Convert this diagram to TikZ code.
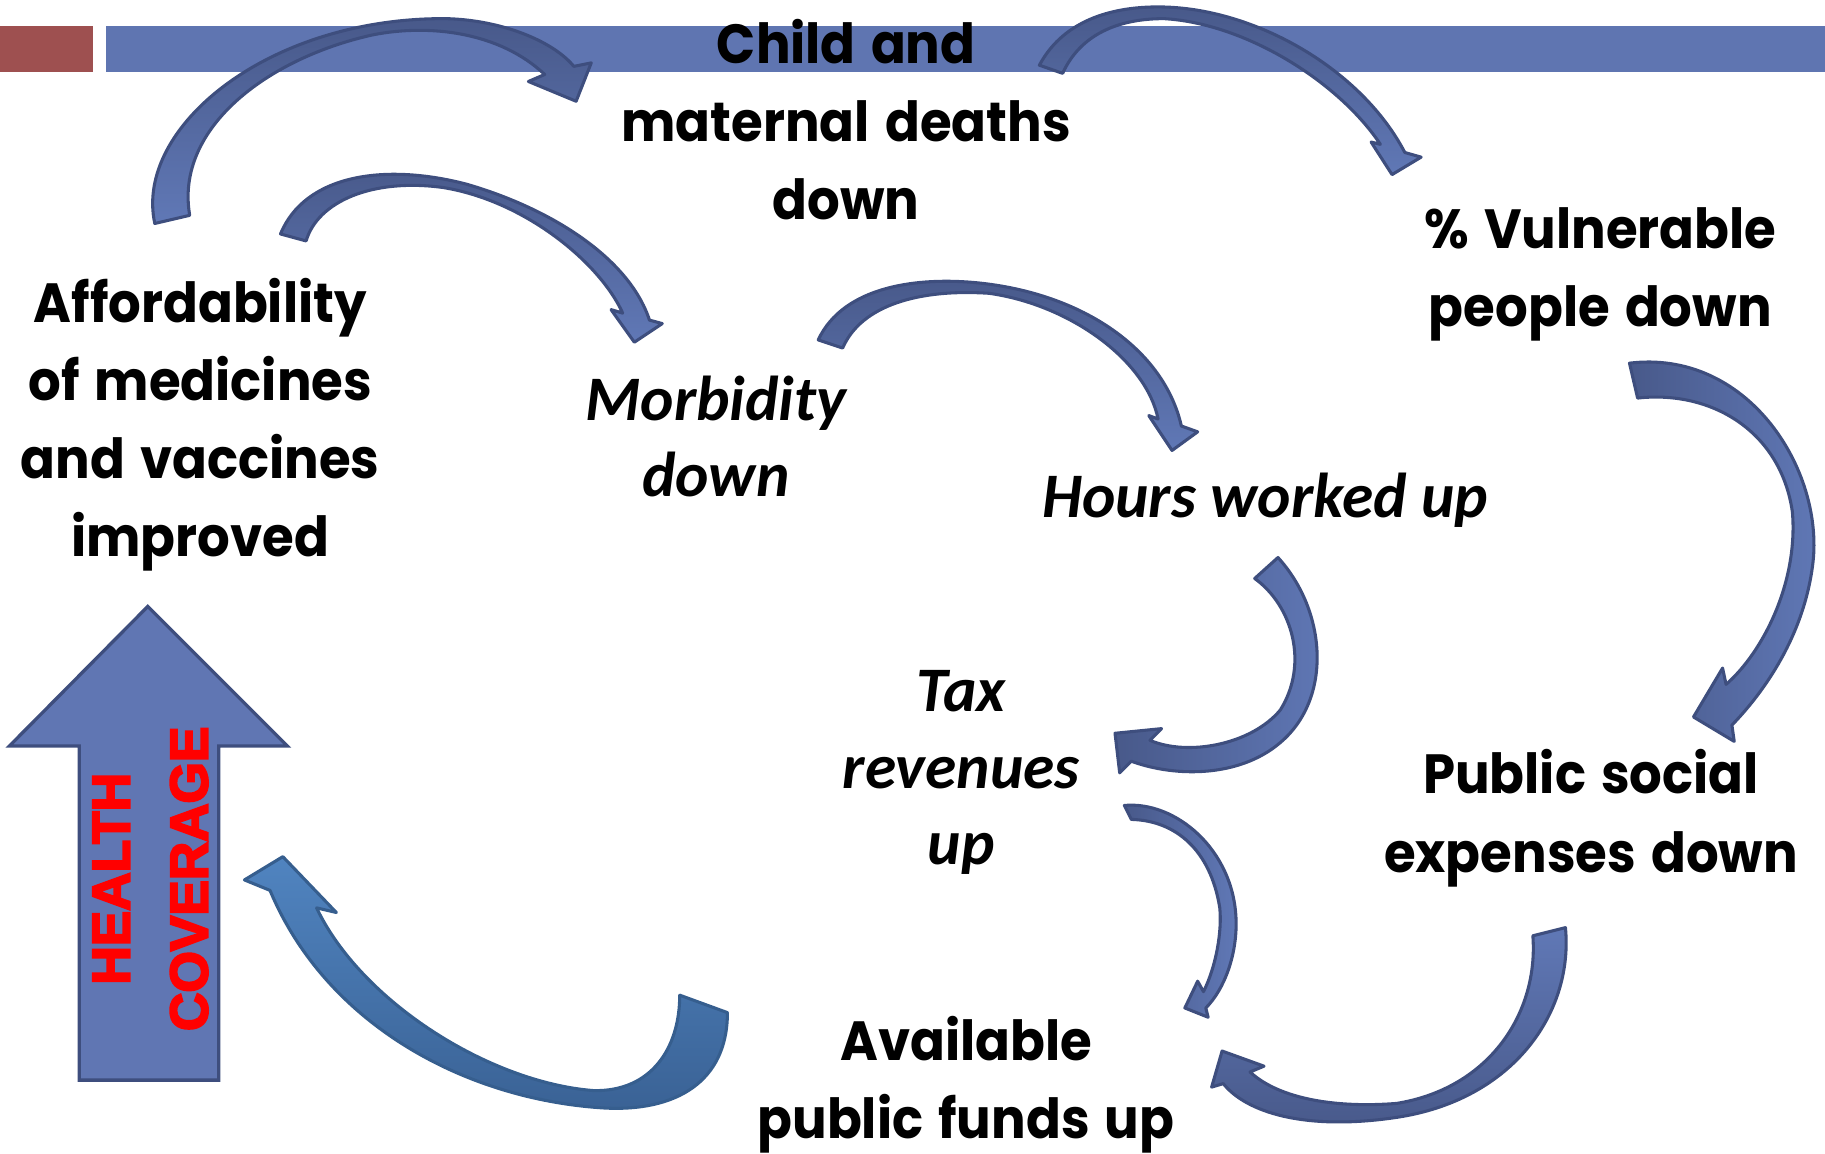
\documentclass[tikz,border=0pt]{standalone}
\usepackage{fontspec}
\newfontfamily\geo[FakeStretch=0.93,WordSpace=1.4]{Poppins}
\newfontfamily\carl{Carlito}
\newfontfamily\arl[FakeBold=4]{Liberation Sans}
\definecolor{barblue}{HTML}{5F75B1}
\definecolor{barred}{HTML}{9E5050}
\definecolor{hblue}{HTML}{6076B3}
\definecolor{adark}{HTML}{48598A}
\definecolor{alight}{HTML}{6078B6}
\definecolor{aline}{HTML}{3E4E7E}
\definecolor{sdark}{HTML}{3A6295}
\definecolor{slight}{HTML}{5084C0}
\definecolor{sline}{HTML}{365E8E}
\tikzset{
  curvarrow/.style={draw=aline, line width=0.75pt, line join=round, left color=adark, right color=alight, shading angle=#1},
  steelarrow/.style={draw=sline, line width=0.75pt, line join=round, left color=slight, right color=sdark, shading angle=#1},
  geotext/.style={font=\geo\bfseries\fontsize{13.5}{19.1}\selectfont, align=center, inner sep=0pt},
  ittext/.style={font=\carl\bfseries\itshape\fontsize{15.5}{18.7}\selectfont, align=center, inner sep=0pt},
  hctext/.style={font=\arl\bfseries\fontsize{13}{15}\selectfont, text=red, rotate=90, inner sep=0pt},
}
\begin{document}
\begin{tikzpicture}[x=0.1mm,y=-0.1mm]
\useasboundingbox (0,0) rectangle (1568,991);
% title bar
\fill[barred] (0,22) rectangle (80,62);
\fill[barblue] (91,22) rectangle (1568,62);

% health coverage arrow
\draw[fill=hblue, draw=aline, line width=0.8pt, line join=miter]
  (127,521) -- (247,641) -- (188,641) -- (188,928) -- (68,928) -- (68,641) -- (8,641) -- cycle;
\node[hctext] (health) at (95.5,755) {HEALTH};
\node[hctext] (coverage) at (162.5,755) {COVERAGE};

% A1: affordability -> child deaths
\path[curvarrow=0] (133,192) .. controls (115,110) and (230,15) .. (383,16)
  .. controls (430,17) and (475,35) .. (493,57)
  -- (508,54) -- (495,87) -- (454,70) -- (468,64)
  .. controls (430,28) and (370,20) .. (320,30)
  .. controls (230,50) and (150,110) .. (163,185) -- cycle;
% A2: affordability -> morbidity
\path[curvarrow=0] (241,201) .. controls (262,150) and (330,140) .. (400,158)
  .. controls (470,178) and (540,220) .. (558,275)
  -- (569,278) -- (545,294) -- (525,266) -- (535,269)
  .. controls (515,225) and (450,172) .. (380,161)
  .. controls (320,153) and (273,173) .. (263,207) -- cycle;
% A3: morbidity -> hours
\path[curvarrow=0] (703,292) .. controls (725,245) and (790,238) .. (840,243)
  .. controls (930,252) and (1000,300) .. (1015,366)
  -- (1029,371) -- (1007,387) -- (987,357) -- (995,360)
  .. controls (985,310) and (920,262) .. (850,252)
  .. controls (790,248) and (740,262) .. (724,299) -- cycle;
% A4: child deaths -> vulnerable
\path[curvarrow=0] (893,56) .. controls (915,15) and (960,5) .. (1000,6)
  .. controls (1080,8) and (1170,60) .. (1207,131)
  -- (1221,135) -- (1196,150) -- (1178,122) -- (1186,124)
  .. controls (1150,70) and (1070,20) .. (1000,16)
  .. controls (960,16) and (928,30) .. (913,63) -- cycle;
% A5: vulnerable -> public social
\path[curvarrow=90] (1400,312) .. controls (1500,300) and (1565,400) .. (1558,480)
  .. controls (1552,540) and (1520,590) .. (1488,623)
  -- (1490,637) -- (1455,616) -- (1480,574) -- (1483,588)
  .. controls (1515,560) and (1545,500) .. (1540,440)
  .. controls (1530,370) and (1470,335) .. (1407,342) -- cycle;
% A6: hours -> tax
\path[curvarrow=90] (1098,479) .. controls (1140,525) and (1145,600) .. (1100,638)
  .. controls (1065,668) and (1010,668) .. (972,654)
  -- (962,664) -- (958,630) -- (998,626) -- (988,636)
  .. controls (1020,650) and (1075,640) .. (1100,610)
  .. controls (1125,570) and (1110,520) .. (1078,497) -- cycle;
% A7: tax -> available
\path[curvarrow=90] (966,692) .. controls (1010,688) and (1060,730) .. (1062,790)
  .. controls (1063,820) and (1052,850) .. (1036,866)
  -- (1038,874) -- (1018,866) -- (1029,843) -- (1034,852)
  .. controls (1045,830) and (1050,800) .. (1048,780)
  .. controls (1040,730) and (1010,705) .. (972,704) -- cycle;
% A8: public social -> available
\path[curvarrow=180] (1345,797) .. controls (1352,870) and (1300,945) .. (1200,960)
  .. controls (1120,972) and (1070,955) .. (1051,931)
  -- (1041,934) -- (1050,903) -- (1086,916) -- (1074,921)
  .. controls (1100,945) and (1150,952) .. (1200,948)
  .. controls (1280,935) and (1322,870) .. (1317,804) -- cycle;
% A9: available -> health coverage
\path[steelarrow=0] (625,870) .. controls (625,930) and (580,955) .. (520,952)
  .. controls (400,945) and (280,880) .. (232,765)
  -- (210,756) -- (243,736) -- (289,784) -- (272,780)
  .. controls (310,860) and (420,930) .. (510,937)
  .. controls (560,938) and (584,900) .. (584,855) -- cycle;

% texts
\node[geotext] (child) at (727,103) {Child and\\maternal deaths\\down};
\node[geotext] (afford) at (172,365) {Affordability\\of medicines\\and vaccines\\improved};
\node[ittext] (morb) at (615,375) {Morbidity\\down};
\node[ittext] (hours) at (1087,430) {Hours worked up};
\node[geotext] (vuln) at (1375,236) {\% Vulnerable\\people down};
\node[ittext] (tax) at (826,664) {Tax\\revenues\\up};
\node[geotext] (public) at (1367,703) {Public social\\expenses down};
\node[geotext] (avail) at (830,932) {Available\\public funds up};
\end{tikzpicture}
\end{document}
